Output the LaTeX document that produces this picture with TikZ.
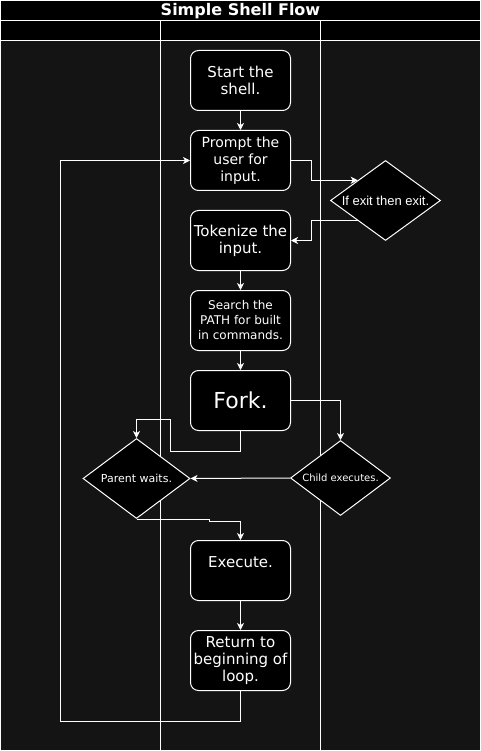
\documentclass[tikz,border=0pt]{standalone}
\usepackage{fontspec}
\setmainfont{DejaVu Sans}
\newfontfamily\helv{Liberation Sans}
\usetikzlibrary{shapes.geometric,arrows.meta}
\definecolor{lanebg}{HTML}{141414}

\begin{document}
\begin{tikzpicture}[x=1pt,y=-1pt,line width=1pt,
	box/.style={draw=white,fill=black,text=white,rounded corners=8pt,minimum width=100pt,minimum height=60pt,inner sep=0pt,align=center,font=\fontsize{15}{17}\selectfont},
	decision/.style={draw=white,fill=black,diamond,inner sep=0pt},
	flow/.style={draw=white,-{Stealth[length=7pt,width=7pt,inset=2pt]}},
	lane/.style={draw=white}]
	\useasboundingbox (0,0) rectangle (481,751);
	\fill[lanebg] (0,40) rectangle (481,751);
	\fill[black] (0,0) rectangle (481,40);
	\draw[lane] (0.5,0.5) rectangle (480.5,750.5);
	\draw[lane] (0.5,20.5) -- (480.5,20.5);
	\draw[lane] (0.5,40.5) -- (480.5,40.5);
	\draw[lane] (160.5,20.5) -- (160.5,750.5);
	\draw[lane] (320.5,20.5) -- (320.5,750.5);
	\node[text=white,font=\bfseries\fontsize{16}{16}\selectfont] (title) at (240.5,11) {Simple Shell Flow};
	\node[box] (start) at (240.5,80.5) {Start the\\shell.};
	\node[box,font=\fontsize{14}{17}\selectfont] (prompt) at (240.5,160.5) {Prompt the\\user for\\input.};
	\node[box] (tok) at (240.5,240.5) {Tokenize the\\input.};
	\node[box,font=\fontsize{12}{15}\selectfont] (search) at (240.5,320.5) {Search the\\PATH for built\\in commands.};
	\node[box,font=\fontsize{22}{24}\selectfont] (fork) at (240.5,400.5) {Fork.};
	\node[box] (exec) at (240.5,570.5) {Execute.\\\mbox{}};
	\node[box] (ret) at (240.5,660.5) {Return to\\beginning of\\loop.};
	\node[decision,minimum width=110pt,minimum height=80pt,label={[text=white,font=\helv\fontsize{13}{15}\selectfont]center:If exit then exit.}] (exitd) at (385.5,200.5) {};
	\node[decision,minimum width=107pt,minimum height=80pt,label={[text=white,font=\fontsize{11}{13}\selectfont]center:Parent waits.}] (parent) at (136.5,478.5) {};
	\node[decision,minimum width=100pt,minimum height=75pt,label={[text=white,font=\fontsize{10}{12}\selectfont]center:Child executes.}] (child) at (340.5,478) {};
	\draw[flow] (start) -- (prompt);
	\draw[flow] (prompt.east) -- ++(20,0) |- (exitd.north west);
	\draw[flow] (exitd.south west) -| ([xshift=20pt]tok.east) -- (tok.east);
	\draw[flow] (tok) -- (search);
	\draw[flow] (search) -- (fork);
	\draw[flow] (fork.east) -| (child.north);
	\draw[flow] (fork.south) -- ++(0,20) -- ++(-70,0) -- ++(0,-32) -| (parent.north);
	\draw[flow] (child.west) -- (parent.east);
	\draw[flow] (parent.south) -- ++(73,0) -- ++(0,2) -| (exec.north);
	\draw[flow] (exec) -- (ret);
	\draw[flow] (ret.south) -- ++(0,30) -- ++(-180,0) |- (prompt.west);
\end{tikzpicture}
\end{document}
